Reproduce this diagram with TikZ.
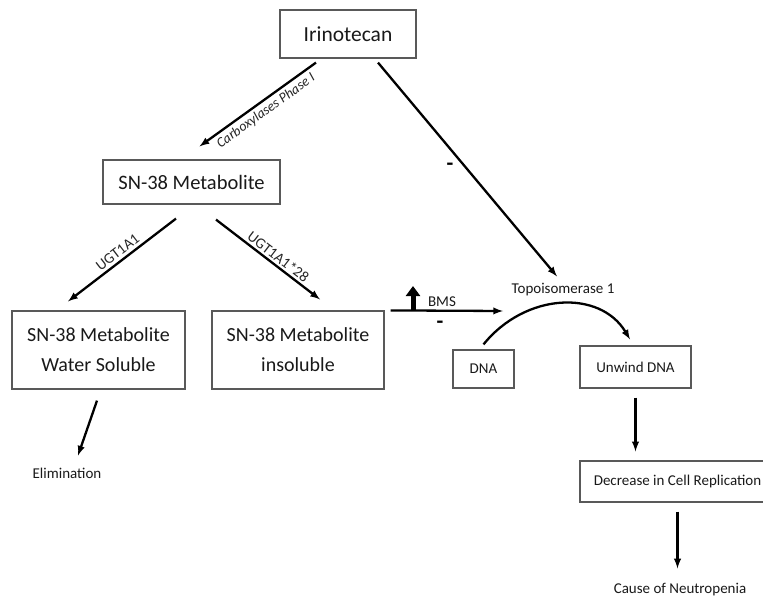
\documentclass[tikz,border=0pt]{standalone}
\usepackage{fontspec}
\setmainfont{Carlito}
\usetikzlibrary{calc,arrows.meta}
\tikzset{
    box/.style={draw=black!65, line width=1.2pt, text=black!90, align=center, inner sep=0pt},
    bigtext/.style={font=\fontsize{21.5}{30}\selectfont},
    smalltext/.style={font=\fontsize{15}{18}\selectfont, text=black!90, inner sep=1pt},
    edgelbl/.style={font=\fontsize{15}{17}\selectfont, text=black!85, sloped, inner sep=1pt},
    flow/.style={line width=2.3pt, -latex},
    minus/.style={font=\fontsize{22}{22}\selectfont\bfseries, inner sep=0pt}
}

\begin{document}
\begin{tikzpicture}[x=1pt,y=-1pt]
\useasboundingbox (0,0) rectangle (763,606);
\clip (0,0) rectangle (763,606);
\node[box,bigtext,minimum width=136pt,minimum height=48pt] (irino) at (348,34) {Irinotecan};
\node[box,bigtext,font=\fontsize{20.5}{29}\selectfont,minimum width=177pt,minimum height=44pt] (sn) at (191.5,182) {SN-38 Metabolite};
\node[box,font=\fontsize{20}{30}\selectfont,minimum width=173pt,minimum height=78pt] (water) at (98.5,350) {SN-38 Metabolite\\Water Soluble};
\node[box,font=\fontsize{20}{30}\selectfont,minimum width=172pt,minimum height=78pt] (insol) at (298,350) {SN-38 Metabolite\\insoluble};
\node[box,smalltext,minimum width=61pt,minimum height=38pt] (dna) at (483.5,369) {DNA};
\node[box,smalltext,minimum width=111pt,minimum height=42pt] (unwind) at (635.5,367) {Unwind DNA};
\node[box,smalltext,minimum width=195pt,minimum height=41pt] (decr) at (677.5,481.5) {Decrease in Cell Replication};
\node[smalltext] (topo) at (563,290) {Topoisomerase 1};
\node[smalltext] (elim) at (67,473) {Elimination};
\node[smalltext] (cause) at (680,590) {Cause of Neutropenia};
\node[smalltext] (bms) at (442,302) {BMS};
\node[minus] (minA) at (450,167) {-};
\node[minus] (minB) at (440,325) {-};
\coordinate (hit) at (503,311);
\coordinate (bmsfoot) at (413,311);

\draw[flow] ([xshift=-32pt,yshift=-4pt]irino.south) -- ([xshift=8pt,yshift=13pt]sn.north)
  node[edgelbl,pos=0.48,below=2pt,font=\fontsize{14}{16}\selectfont\itshape]{Carboxylases Phase I};
\draw[flow] ([xshift=30pt,yshift=-4pt]irino.south) -- ([xshift=-6pt,yshift=6pt]topo.north);
\draw[flow] ([xshift=-15.5pt,yshift=-14pt]sn.south) -- ([xshift=-30.5pt,yshift=9pt]water.north)
  node[edgelbl,pos=0.49,above=2pt]{UGT1A1};
\draw[flow] ([xshift=24.5pt,yshift=-15pt]sn.south) -- ([xshift=22pt,yshift=11pt]insol.north)
  node[edgelbl,pos=0.55,above=1pt]{UGT1A1*28};
\draw[flow] ([xshift=-1.5pt,yshift=-11pt]water.south) -- ([xshift=11pt,yshift=11pt]elim.north);
\draw[flow] ([xshift=6pt]insol.north east) -- (hit);
\draw[line width=5pt,-{Triangle[width=14pt,length=10pt]}] (bmsfoot) -- ++(0,-25);
\draw[flow] ([yshift=5pt]dna.north) .. controls +(42,-52) and +(-30,-50) .. ([xshift=-5.5pt,yshift=6pt]unwind.north);
\draw[flow] ([yshift=-9pt]unwind.south) -- ([yshift=9pt]unwind.south |- decr.north);
\draw[flow] ([yshift=-9pt]decr.south) -- ([yshift=14pt]decr.south |- cause.north);
\end{tikzpicture}
\end{document}
